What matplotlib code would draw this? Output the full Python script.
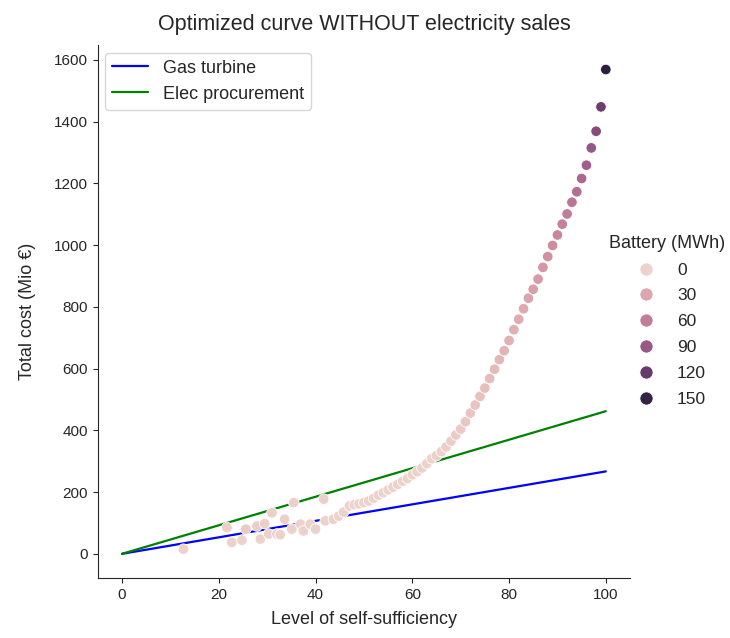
import numpy as np
import matplotlib
matplotlib.use('Agg')
import matplotlib.pyplot as plt
from matplotlib.lines import Line2D
from matplotlib.colors import Normalize
from matplotlib.ticker import MaxNLocator
import seaborn as sns

sns.set_style('ticks')
plt.rcParams['font.family'] = ['Liberation Sans', 'DejaVu Sans']

# straight reference lines (cost vs self-sufficiency)
line_x = [0, 100]
gas_turbine = [0, 267]
elec_procurement = [0, 462]

# optimised points: level of self-sufficiency, total cost, battery size
self_suff = [12.7, 21.7, 22.7, 24.8, 25.6, 27.9, 28.6, 29.5, 30.3, 31.0,
             32.0, 32.7, 33.6, 35.1, 35.5, 36.9, 37.5, 38.9, 40.0, 41.7,
             42.0, 43.7, 44.8, 45.8,
             47, 48, 49, 50, 51, 52, 53, 54, 55, 56, 57, 58, 59, 60,
             61, 62, 63, 64, 65, 66, 67, 68, 69, 70, 71, 72, 73, 74,
             75, 76, 77, 78, 79, 80, 81, 82, 83, 84, 85, 86, 87, 88,
             89, 90, 91, 92, 93, 94, 95, 96, 97, 98, 99, 100]
total_cost = [15, 85, 37, 44, 80, 90, 48, 98, 64, 133,
              64, 62, 112, 80, 166, 96, 74, 96, 80, 177,
              107, 112, 122, 135,
              155, 159, 162, 166, 171, 180, 190, 198, 207, 216, 225, 235, 244, 256,
              266, 278, 292, 308, 318, 331, 346, 365, 385, 404, 428, 456, 482, 510,
              537, 568, 598, 629, 658, 691, 726, 760, 794, 828, 857, 890, 928, 963,
              999, 1033, 1068, 1101, 1139, 1173, 1216, 1259, 1315, 1369, 1448, 1569]
battery = [0, 3, 0, 0, 6, 3, 0, 2, 0, 2,
           0, 0, 2, 0, 2, 0, 0, 0, 0, 2,
           0, 0, 0, 0,
           0, 0, 0, 0, 0, 0, 0, 0, 0, 0, 0, 0, 0, 0,
           0, 0, 0, 0, 1, 1, 2, 4, 5, 6, 8, 9, 10, 12,
           13, 15, 16, 18, 20, 22, 24, 26, 28, 31, 34, 37, 40, 44,
           48, 52, 56, 60, 65, 71, 77, 84, 92, 102, 118, 155]

cmap = sns.cubehelix_palette(as_cmap=True)
norm = Normalize(vmin=min(battery), vmax=max(battery))

fig = plt.figure(figsize=(7.3, 6.38), dpi=100)
ax = fig.add_axes([0.134, 0.094, 0.729, 0.835])

ax.plot(line_x, gas_turbine, color='blue', lw=1.6, label='Gas turbine')
ax.plot(line_x, elec_procurement, color='green', lw=1.6, label='Elec procurement')
ax.scatter(self_suff, total_cost, c=battery, cmap=cmap, norm=norm,
           s=58, edgecolors='white', linewidths=0.6, zorder=3)

ax.set_title('Optimized curve WITHOUT electricity sales', fontsize=15.5, pad=11)
ax.set_xlabel('Level of self-sufficiency', fontsize=13, labelpad=7)
ax.set_ylabel('Total cost (Mio €)', fontsize=13, labelpad=13)
ax.tick_params(labelsize=11)
ax.set_xticks([0, 20, 40, 60, 80, 100])
ax.set_yticks(range(0, 1601, 200))
sns.despine(ax=ax)

ax.legend(loc='upper left', fontsize=13, frameon=True, borderaxespad=0.4)

# hue legend outside on the right
levels = MaxNLocator(nbins=6).tick_values(min(battery), max(battery))
levels = [v for v in levels if min(battery) <= v <= max(battery)]
handles = [Line2D([], [], marker='o', ls='', markersize=9.5,
                  markerfacecolor=cmap(norm(v)), markeredgecolor='white',
                  markeredgewidth=0.6) for v in levels]
labels = [str(int(v)) for v in levels]
fig.legend(handles, labels, title='Battery (MWh)', loc='center',
           bbox_to_anchor=(0.914, 0.497), frameon=False, fontsize=12.5,
           title_fontsize=13, labelspacing=0.62)

fig.savefig('out.png', dpi=100)
